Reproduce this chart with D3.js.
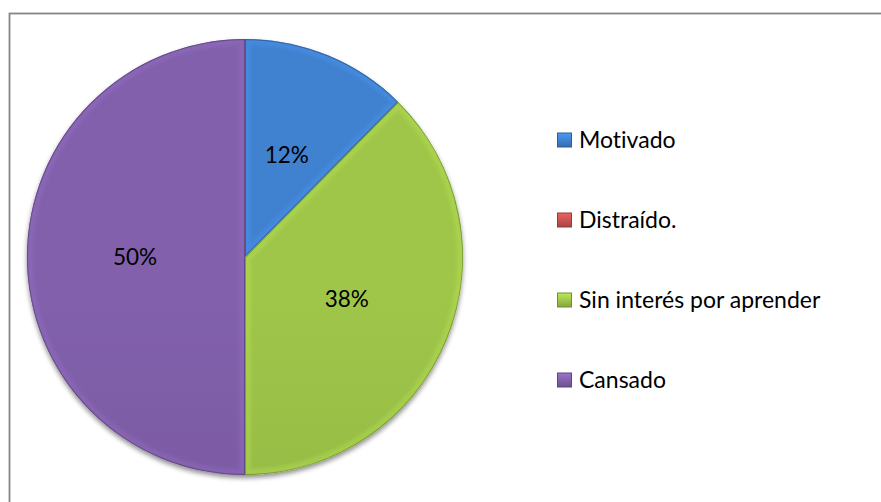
<!DOCTYPE html>
<html><head><meta charset="utf-8">
<script src="https://cdn.jsdelivr.net/npm/d3@7"></script>
<style>html,body{margin:0;padding:0;background:#fff;}svg{display:block;}text{font-variant-ligatures:none;font-feature-settings:"liga" 0;}</style>
</head><body>
<svg id="chart" width="881" height="502"></svg>
<script>
const categories = ["Motivado", "Distraído.", "Sin interés por aprender", "Cansado"];
const values = [12.4, 0, 37.6, 50];
const colors = ["#3D7CC7", "#C0504D", "#98BE46", "#7D5CA5"];

const W = 881, H = 502;
const svg = d3.select("#chart");
const defs = svg.append("defs");
const font = "Lato, 'Open Sans', sans-serif";

svg.append("rect").attr("width", W).attr("height", H).attr("fill", "#fff");
svg.append("rect").attr("x", 9.5).attr("y", 13.5).attr("width", W + 20).attr("height", H + 20)
  .attr("fill", "none").attr("stroke", "#858585").attr("stroke-width", 1.8);

const cx = 245, cy = 257, R = 218;

const f = defs.append("filter").attr("id", "shadow").attr("x", "-10%").attr("y", "-10%").attr("width", "120%").attr("height", "125%");
f.append("feGaussianBlur").attr("in", "SourceAlpha").attr("stdDeviation", 2.5).attr("result", "b");
f.append("feOffset").attr("in", "b").attr("dx", 0).attr("dy", 3).attr("result", "o");
f.append("feComponentTransfer").attr("in", "o").attr("result", "o2")
  .append("feFuncA").attr("type", "linear").attr("slope", 0.45);
const fm = f.append("feMerge");
fm.append("feMergeNode").attr("in", "o2");
fm.append("feMergeNode").attr("in", "SourceGraphic");

const blur = defs.append("filter").attr("id", "soft");
blur.append("feGaussianBlur").attr("stdDeviation", 1.6);

colors.forEach((c, i) => {
  const g = defs.append("linearGradient").attr("id", "lg" + i)
    .attr("gradientUnits", "userSpaceOnUse")
    .attr("x1", cx).attr("y1", cy - R).attr("x2", cx).attr("y2", cy + R);
  g.append("stop").attr("offset", "0%").attr("stop-color", d3.color(c).brighter(0.12));
  g.append("stop").attr("offset", "100%").attr("stop-color", d3.color(c).darker(0.22));
});

const pie = d3.pie().sort(null).value(d => d)(values);
const arc = d3.arc().innerRadius(0).outerRadius(R);
const labelArc = d3.arc().innerRadius(110).outerRadius(110);

const gPie = svg.append("g").attr("transform", `translate(${cx},${cy})`);
const gBase = gPie.append("g").attr("filter", "url(#shadow)");

pie.forEach((p, i) => {
  if (p.value === 0) return;
  defs.append("clipPath").attr("id", "cp" + i).append("path").attr("d", arc(p));
  gBase.append("path").attr("d", arc(p)).attr("fill", `url(#lg${i})`);
});

pie.forEach((p, i) => {
  if (p.value === 0) return;
  const g = gPie.append("g").attr("clip-path", `url(#cp${i})`);
  g.append("path").attr("d", arc(p)).attr("fill", "none")
    .attr("stroke", d3.color(colors[i]).brighter(0.6)).attr("stroke-width", 12)
    .attr("stroke-opacity", 0.3).attr("filter", "url(#soft)");
  g.append("path").attr("d", arc(p)).attr("fill", "none")
    .attr("stroke", d3.color(colors[i]).darker(1.0)).attr("stroke-width", 2)
    .attr("stroke-opacity", 0.7);
});

pie.forEach((p, i) => {
  if (p.value === 0) return;
  const [x, y] = labelArc.centroid(p);
  gPie.append("text").attr("x", x).attr("y", y).attr("dy", "0.35em")
    .attr("text-anchor", "middle").attr("font-family", font).attr("font-size", 22.5)
    .attr("fill", "#000").text(Math.round(p.value) + "%");
});

const legend = svg.append("g");
const ly = d3.scalePoint().domain(categories).range([140, 380]);
categories.forEach((c, i) => {
  const y = ly(c);
  const gg = defs.append("linearGradient").attr("id", "mk" + i).attr("x1", 0).attr("y1", 0).attr("x2", 0).attr("y2", 1);
  gg.append("stop").attr("offset", "0%").attr("stop-color", d3.color(colors[i]).brighter(0.6));
  gg.append("stop").attr("offset", "100%").attr("stop-color", d3.color(colors[i]).darker(0.4));
  legend.append("rect").attr("x", 557.5).attr("y", y - 7).attr("width", 14).attr("height", 14)
    .attr("fill", `url(#mk${i})`).attr("stroke", d3.color(colors[i]).darker(0.8)).attr("stroke-width", 1);
  legend.append("text").attr("x", 579).attr("y", y).attr("dy", "0.35em")
    .attr("font-family", font).attr("font-size", 23).attr("fill", "#000").text(c);
});
</script>
</body></html>
